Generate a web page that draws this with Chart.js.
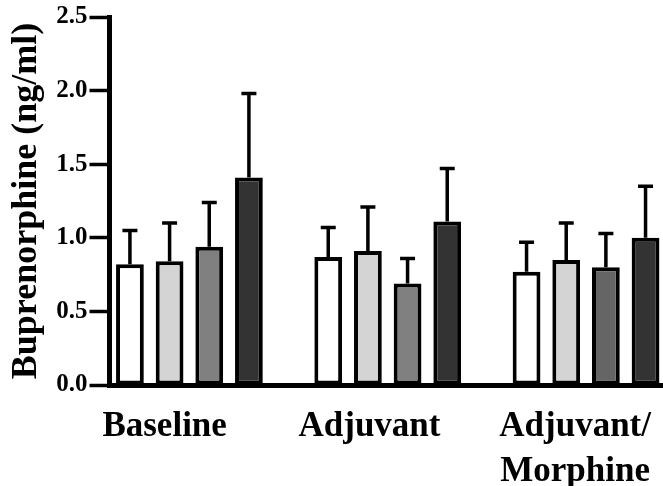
<!DOCTYPE html>
<html>
<head>
<meta charset="utf-8">
<script src="https://cdn.jsdelivr.net/npm/chart.js@4/dist/chart.umd.min.js"></script>
<style>
  html, body { margin: 0; padding: 0; background: #ffffff; }
  #wrap { position: relative; width: 663px; height: 486px; }
</style>
</head>
<body>
<div id="wrap"><canvas id="chart"></canvas></div>
<script>
// Groups along the x axis
const categories = ['Baseline', 'Adjuvant', ['Adjuvant/', 'Morphine']];

// Mean plasma buprenorphine (ng/ml) per group, four treatment series
const meanWhite = [0.82, 0.87, 0.77];
const meanLight = [0.84, 0.91, 0.85];
const meanMid   = [0.94, 0.69, 0.80];
const meanDark  = [1.41, 1.11, 1.00];

// Upper error (SEM) for each bar
const semWhite = [0.23, 0.20, 0.20];
const semLight = [0.26, 0.30, 0.25];
const semMid   = [0.30, 0.17, 0.23];
const semDark  = [0.57, 0.36, 0.35];

// Y axis ticks
const yTicks = [0.0, 0.5, 1.0, 1.5, 2.0, 2.5];

const FONT = '"Liberation Serif", "Times New Roman", serif';

const series = [
  { label: 'Series 1', mean: meanWhite, sem: semWhite, color: '#ffffff' },
  { label: 'Series 2', mean: meanLight, sem: semLight, color: '#d4d4d4' },
  { label: 'Series 3', mean: meanMid,   sem: semMid,   color: ['#808080', '#808080', '#656565'] },
  { label: 'Series 4', mean: meanDark,  sem: semDark,  color: '#333333' }
];

// Upward-only error bars with a short cap
const errorBars = {
  id: 'errorBars',
  afterDatasetsDraw(chart) {
    const ctx = chart.ctx;
    const yScale = chart.scales.y;
    ctx.save();
    ctx.strokeStyle = '#000000';
    ctx.lineWidth = 3.5;
    ctx.lineCap = 'butt';
    chart.data.datasets.forEach((ds, di) => {
      const meta = chart.getDatasetMeta(di);
      meta.data.forEach((bar, i) => {
        const v = ds.data[i].y;
        const top = yScale.getPixelForValue(v + ds.sem[i]);
        ctx.beginPath();
        ctx.moveTo(bar.x, bar.y);
        ctx.lineTo(bar.x, top);
        ctx.moveTo(bar.x - 7.5, top);
        ctx.lineTo(bar.x + 7.5, top);
        ctx.stroke();
      });
    });
    ctx.restore();
  }
};

// Group labels sit a little left of each bar cluster
const labelShift = [-0.125, -0.092, -0.055];

new Chart(document.getElementById('chart'), {
  type: 'bar',
  data: {
    datasets: series.map(s => ({
      label: s.label,
      data: s.mean.map((v, i) => ({ x: i, y: v })),
      sem: s.sem,
      backgroundColor: s.color,
      borderColor: '#000000',
      borderWidth: 4,
      borderSkipped: false,
      categoryPercentage: 0.8,
      barPercentage: 0.70
    }))
  },
  options: {
    responsive: true,
    maintainAspectRatio: false,
    animation: false,
    layout: { padding: { top: 17, right: 0, bottom: 0, left: 0 } },
    plugins: {
      legend: { display: false },
      tooltip: { enabled: false }
    },
    scales: {
      x: {
        type: 'linear',
        offset: false,
        min: -0.403,
        max: 2.384,
        afterBuildTicks: (scale) => {
          scale.ticks = categories.map((c, i) => ({ value: i + labelShift[i], idx: i }));
        },
        afterFit: (scale) => { scale.height = 101; },
        grid: { display: false, offset: false },
        border: { display: true, color: '#000000', width: 5 },
        ticks: {
          autoSkip: false,
          maxRotation: 0,
          padding: 12,
          color: '#000000',
          font: { family: FONT, size: 35, weight: 'bold', lineHeight: 1.27 },
          callback: (value, index) => categories[index]
        }
      },
      y: {
        min: 0,
        max: 2.5,
        afterBuildTicks: (scale) => {
          scale.ticks = yTicks.map(v => ({ value: v }));
        },
        afterFit: (scale) => { scale.width = 109.5; },
        grid: {
          display: true,
          drawOnChartArea: false,
          drawTicks: true,
          tickLength: 20,
          tickWidth: 3.5,
          tickColor: '#000000'
        },
        border: { display: true, color: '#000000', width: 5 },
        ticks: {
          padding: 2,
          color: '#000000',
          font: { family: FONT, size: 25, weight: 'bold' },
          callback: (value) => Number(value).toFixed(1)
        },
        title: {
          display: true,
          text: 'Buprenorphine (ng/ml)',
          color: '#000000',
          padding: { top: 5, bottom: 0 },
          font: { family: FONT, size: 36, weight: 'bold', lineHeight: 1.2 }
        }
      }
    }
  },
  plugins: [errorBars]
});
</script>
</body>
</html>
